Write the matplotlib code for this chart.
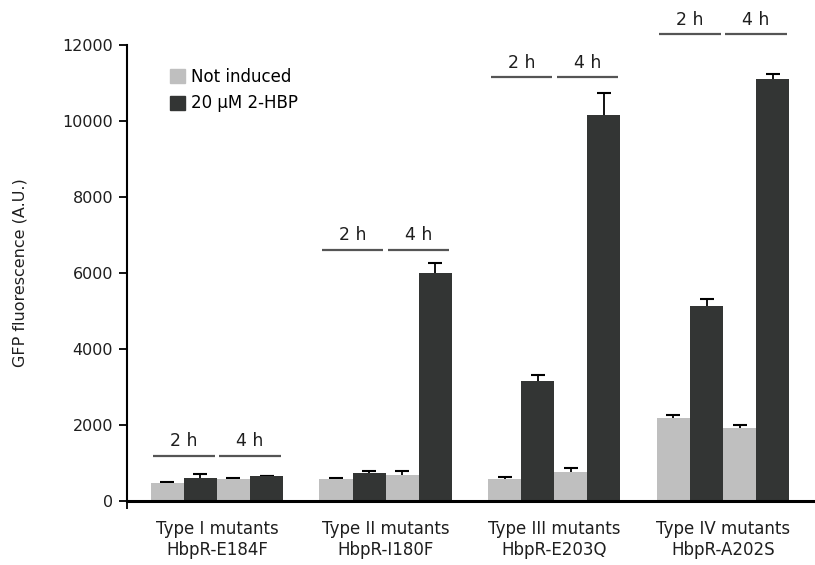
import numpy as np
import matplotlib
matplotlib.use("Agg")
import matplotlib.pyplot as plt
import matplotlib.patches as mpatches

plt.rcParams['font.family'] = ['DejaVu Sans']

# Mutant groups and GFP readout (A.U.), order per group: 2 h then 4 h
groups = ['Type I mutants\nHbpR-E184F', 'Type II mutants\nHbpR-I180F',
          'Type III mutants\nHbpR-E203Q', 'Type IV mutants\nHbpR-A202S']
not_induced_2h = [474, 579, 579, 2193]
induced_2h = [605, 737, 3158, 5132]
not_induced_4h = [579, 684, 772, 1930]
induced_4h = [658, 6008, 10158, 11105]

err_not_induced_2h = [30, 35, 45, 60]
err_induced_2h = [100, 45, 160, 185]
err_not_induced_4h = [35, 95, 105, 70]
err_induced_4h = [8, 265, 570, 140]

time_labels = ['2 h', '4 h']
bracket_levels = [1184, 6605, 11150, 12280]

C_LIGHT = '#bfbfbf'
C_DARK = '#333534'
TXT = '#1e1e1e'

fig = plt.figure(figsize=(8.15, 5.65), dpi=100)
ax = fig.add_axes([127 / 815, 1 - 501 / 565, 688 / 815, 456 / 565])

x = np.arange(len(groups))
w = 0.196
series = [(not_induced_2h, err_not_induced_2h, C_LIGHT),
          (induced_2h, err_induced_2h, C_DARK),
          (not_induced_4h, err_not_induced_4h, C_LIGHT),
          (induced_4h, err_induced_4h, C_DARK)]
offsets = [-1.5, -0.5, 0.5, 1.5]

# error bars sit behind the bars so only the upper half shows
for (vals, errs, col), off in zip(series, offsets):
    ax.bar(x + off * w, vals, w, color=col, edgecolor='none', zorder=3)
    ax.errorbar(x + off * w, vals, yerr=errs,
                fmt='none', ecolor='black', elinewidth=1.3, capsize=4.7,
                capthick=1.5, zorder=2)

# time brackets over each pair of bars
for i, lvl in enumerate(bracket_levels):
    for j, lab in enumerate(time_labels):
        cx = x[i] + (-1 if j == 0 else 1) * w
        ax.plot([cx - 0.182, cx + 0.182], [lvl, lvl], color='#555555',
                lw=1.6, solid_capstyle='butt', clip_on=False, zorder=4)
        ax.annotate(lab, (cx, lvl), xytext=(0, 4), textcoords='offset points',
                    ha='center', va='bottom', fontsize=12.5, color=TXT,
                    annotation_clip=False)

ax.set_xlim(-0.533, 3.545)
ax.set_ylim(0, 12000)
ax.set_yticks(np.arange(0, 12001, 2000))
ax.set_xticks(x)
ax.set_xticklabels(groups, fontsize=12, color=TXT, linespacing=1.15)
ax.set_xticks([-0.533], minor=True)
ax.tick_params(axis='x', which='major', length=0, pad=14)
ax.tick_params(axis='x', which='minor', length=6, width=1.3, direction='out')
ax.tick_params(axis='y', length=6, width=1.3, direction='out',
               labelsize=11.5, labelcolor=TXT, pad=4)

for s in ['top', 'right']:
    ax.spines[s].set_visible(False)
ax.spines['left'].set_linewidth(1.5)
ax.spines['bottom'].set_linewidth(2.2)
ax.spines['bottom'].set_zorder(5)

ax.set_ylabel('GFP fluorescence (A.U.)', fontsize=11.5, color=TXT)
ax.yaxis.set_label_coords(-0.145, 0.5)

handles = [mpatches.Patch(color=C_LIGHT, label='Not induced'),
           mpatches.Patch(color=C_DARK, label='20 \u00b5M 2-HBP')]
fig.legend(handles=handles, loc='upper left', bbox_to_anchor=(170 / 815, 1 - 68 / 565),
           frameon=False, fontsize=12, handlelength=0.9, handleheight=0.9,
           handletextpad=0.35, labelspacing=0.5, borderpad=0, borderaxespad=0)

fig.savefig('out.png', dpi=100)
